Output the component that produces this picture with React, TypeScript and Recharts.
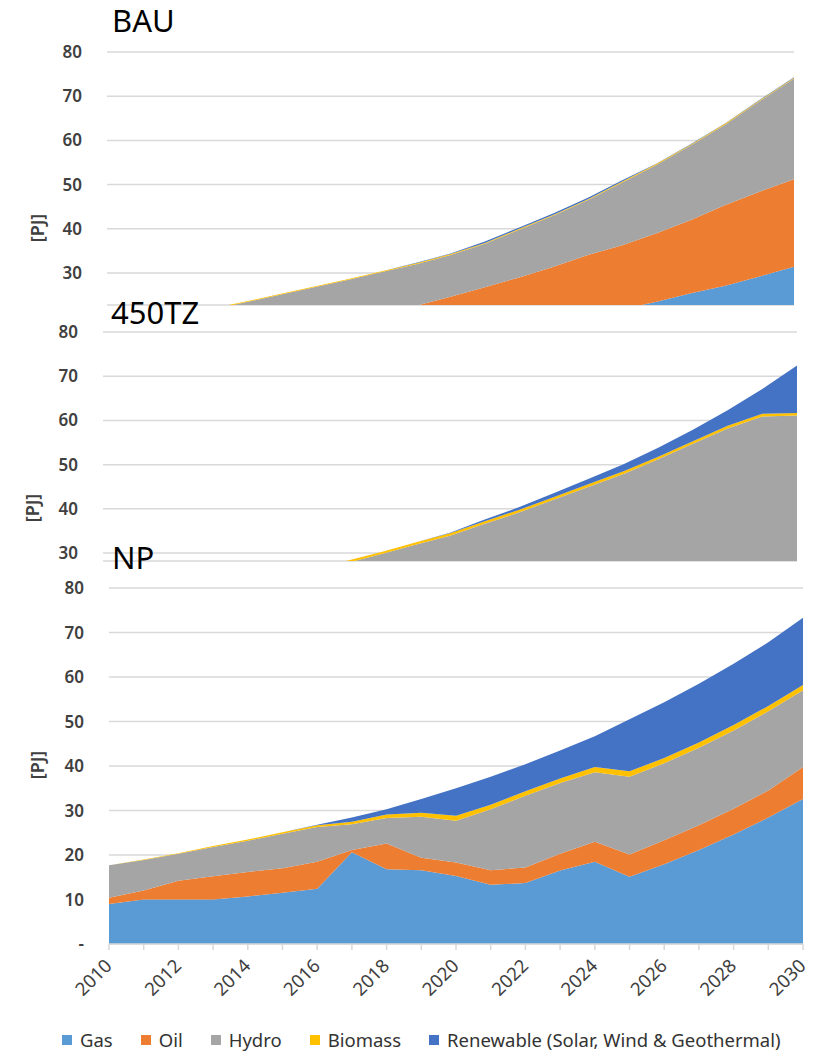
import React from 'react';
import { AreaChart, Area, XAxis, YAxis, CartesianGrid } from 'recharts';

const years = [2010, 2011, 2012, 2013, 2014, 2015, 2016, 2017, 2018, 2019, 2020, 2021, 2022, 2023, 2024, 2025, 2026, 2027, 2028, 2029, 2030];

// BAU scenario [PJ]
const bauGas = [9.0, 10.0, 10.0, 10.0, 10.7, 11.5, 12.4, 13.5, 14.5, 15.5, 16.5, 17.5, 18.5, 19.5, 20.5, 21.8, 23.5, 25.4, 27.1, 29.2, 31.4];
const bauOil = [1.4, 2.0, 4.2, 5.2, 5.5, 5.5, 6.1, 6.0, 6.3, 7.1, 8.1, 9.3, 10.5, 11.9, 13.6, 14.5, 15.5, 16.6, 18.3, 19.2, 19.8];
const bauHydro = [7.3, 6.8, 6.0, 6.5, 7.1, 8.0, 8.2, 8.9, 9.4, 9.4, 9.5, 9.8, 10.8, 11.6, 12.4, 14.2, 15.5, 16.9, 18.2, 20.5, 22.8];
const bauBiomass = [0, 0.1, 0.1, 0.2, 0.2, 0.2, 0.2, 0.2, 0.2, 0.2, 0.2, 0.2, 0.2, 0.2, 0.2, 0.2, 0.2, 0.2, 0.2, 0.2, 0.2];
const bauRenewable = [0, 0, 0, 0, 0, 0, 0, 0, 0, 0.1, 0.1, 0.3, 0.3, 0.3, 0.3, 0.3, 0.1, 0.1, 0.1, 0.1, 0.1];

// 450TZ scenario [PJ]
const tzGas = [9.0, 10.0, 10.0, 10.0, 10.7, 11.5, 12.4, 13.0, 13.0, 13.0, 12.0, 11.0, 10.0, 9.0, 8.0, 7.0, 6.0, 5.0, 4.0, 3.0, 2.0];
const tzOil = [1.4, 2.0, 4.2, 5.2, 5.5, 5.5, 6.1, 5.0, 5.0, 4.0, 4.0, 3.0, 3.0, 2.0, 2.0, 2.0, 1.0, 1.0, 1.0, 1.0, 1.0];
const tzHydro = [7.3, 6.8, 6.0, 6.5, 7.0, 7.8, 7.7, 9.7, 11.7, 14.9, 17.9, 22.6, 26.2, 31.1, 35.0, 38.9, 44.2, 48.7, 53.2, 56.9, 58.1];
const tzBiomass = [0, 0.1, 0.1, 0.2, 0.3, 0.3, 0.4, 0.5, 0.5, 0.5, 0.6, 0.6, 0.6, 0.6, 0.6, 0.6, 0.6, 0.6, 0.6, 0.6, 0.6];
const tzRenewable = [0, 0, 0, 0, 0, 0, 0, 0, 0, 0, 0.1, 0.4, 0.6, 0.9, 1.2, 1.6, 2.0, 2.6, 3.5, 5.6, 10.7];

// NP scenario [PJ]
const npGas = [9.0, 10.0, 10.0, 10.0, 10.7, 11.5, 12.4, 20.6, 16.8, 16.6, 15.3, 13.3, 13.7, 16.5, 18.5, 15.1, 17.9, 21.1, 24.6, 28.4, 32.6];
const npOil = [1.4, 2.0, 4.2, 5.2, 5.5, 5.5, 6.1, 0.5, 5.8, 2.8, 3.0, 3.3, 3.5, 3.8, 4.5, 5.0, 5.4, 5.6, 5.8, 6.1, 7.2];
const npHydro = [7.3, 6.9, 6.1, 6.6, 7.0, 7.8, 7.8, 5.8, 5.7, 9.2, 9.4, 13.7, 16.1, 15.9, 15.6, 17.5, 17.3, 17.4, 17.6, 17.8, 17.2];
const npBiomass = [0, 0.1, 0.1, 0.2, 0.3, 0.3, 0.4, 0.6, 0.8, 0.9, 1.1, 1.0, 1.0, 1.0, 1.2, 1.2, 1.2, 1.2, 1.2, 1.2, 1.2];
const npRenewable = [0, 0, 0, 0, 0, 0, 0.1, 0.9, 1.2, 3.1, 6.2, 6.3, 6.1, 6.3, 6.9, 11.7, 12.5, 13.2, 13.8, 14.3, 15.1];

const yTicksCropped = [30, 40, 50, 60, 70, 80];
const yTicksFull = [0, 10, 20, 30, 40, 50, 60, 70, 80];
const xLabelYears = [2010, 2012, 2014, 2016, 2018, 2020, 2022, 2024, 2026, 2028, 2030];

const series = [
  { key: 'gas', name: 'Gas', color: '#5B9BD5' },
  { key: 'oil', name: 'Oil', color: '#ED7D31' },
  { key: 'hydro', name: 'Hydro', color: '#A5A5A5' },
  { key: 'biomass', name: 'Biomass', color: '#FFC000' },
  { key: 'renewable', name: 'Renewable (Solar, Wind & Geothermal)', color: '#4472C4' },
];

const build = (g: number[], o: number[], h: number[], b: number[], r: number[]) =>
  years.map((year, i) => ({ year, gas: g[i], oil: o[i], hydro: h[i], biomass: b[i], renewable: r[i] }));

const bauData = build(bauGas, bauOil, bauHydro, bauBiomass, bauRenewable);
const tzData = build(tzGas, tzOil, tzHydro, tzBiomass, tzRenewable);
const npData = build(npGas, npOil, npHydro, npBiomass, npRenewable);

const FONT = "'Noto Sans', 'DejaVu Sans', sans-serif";
const tickStyle = { fontSize: 17, fill: '#404040', fontFamily: FONT, fontWeight: 600 };
const GRID = '#D9D9D9';

const renderAreas = () =>
  series.map((s) => (
    <Area
      key={s.key}
      type="linear"
      dataKey={s.key}
      name={s.name}
      stackId="1"
      fill={s.color}
      fillOpacity={1}
      stroke="none"
      isAnimationActive={false}
      dot={false}
      activeDot={false}
    />
  ));

const XTick = (props: any) => {
  const { x, y, payload } = props;
  const yr = Number(payload.value);
  if (!xLabelYears.includes(yr)) return null;
  const ax = x + 4;
  const ay = y + 15;
  return (
    <text
      x={ax}
      y={ay}
      textAnchor="end"
      transform={`rotate(-45, ${ax}, ${ay})`}
      style={{ fontSize: 18.5, fill: '#404040', fontFamily: FONT }}
    >
      {yr}
    </text>
  );
};

export default function App() {
  return (
    <div style={{ position: 'absolute', left: 0, top: 0, width: 821, height: 1054, background: '#fff', overflow: 'hidden' }}>
      {/* BAU */}
      <div style={{ position: 'absolute', left: 0, top: 0 }}>
        <AreaChart width={821} height={310} data={bauData} margin={{ top: 52, right: 27, bottom: 5, left: 0 }}>
          <CartesianGrid vertical={false} stroke={GRID} strokeWidth={1.5} />
          <XAxis dataKey="year" hide />
          <YAxis
            type="number"
            width={107}
            domain={[22.76, 80]}
            allowDataOverflow
            ticks={yTicksCropped}
            axisLine={false}
            tickLine={false}
            tickSize={0}
            tickMargin={25}
            tick={tickStyle}
          />
          {renderAreas()}
        </AreaChart>
      </div>
      {/* 450TZ */}
      <div style={{ position: 'absolute', left: 0, top: 280 }}>
        <AreaChart width={821} height={290} data={tzData} margin={{ top: 52, right: 24, bottom: 9, left: 0 }}>
          <CartesianGrid vertical={false} stroke={GRID} strokeWidth={1.5} />
          <XAxis dataKey="year" hide />
          <YAxis
            type="number"
            width={103}
            domain={[28.2, 80]}
            allowDataOverflow
            ticks={yTicksCropped}
            axisLine={false}
            tickLine={false}
            tickSize={0}
            tickMargin={25}
            tick={tickStyle}
          />
          {renderAreas()}
        </AreaChart>
      </div>
      {/* NP */}
      <div style={{ position: 'absolute', left: 0, top: 536 }}>
        <AreaChart width={821} height={518} data={npData} margin={{ top: 52, right: 18, bottom: 30, left: 0 }}>
          <CartesianGrid vertical={false} stroke={GRID} strokeWidth={1.5} />
          <XAxis
            dataKey="year"
            interval={0}
            height={80}
            axisLine={{ stroke: GRID, strokeWidth: 1.5 }}
            tickLine={{ stroke: GRID, strokeWidth: 1.5 }}
            tickSize={6}
            tick={<XTick />}
          />
          <YAxis
            type="number"
            width={109}
            domain={[0, 80]}
            ticks={yTicksFull}
            axisLine={false}
            tickLine={false}
            tickSize={0}
            tickMargin={25}
            tick={tickStyle}
            tickFormatter={(v: number) => (v === 0 ? '-' : String(v))}
          />
          {renderAreas()}
        </AreaChart>
      </div>
      {/* Titles and axis labels */}
      <svg width={821} height={1054} style={{ position: 'absolute', left: 0, top: 0, pointerEvents: 'none' }}>
        <g style={{ fontFamily: FONT, fontSize: 31, fill: '#000' }}>
          <text x={112} y={32}>BAU</text>
          <text x={111} y={324}>450TZ</text>
          <text x={112} y={569}>NP</text>
        </g>
        <g style={{ fontFamily: FONT, fontSize: 18, fill: '#404040', fontWeight: 600 }}>
          <text x={44} y={228} textAnchor="middle" transform="rotate(-90, 44, 228)">[PJ]</text>
          <text x={39} y={508} textAnchor="middle" transform="rotate(-90, 39, 508)">[PJ]</text>
          <text x={44} y={765} textAnchor="middle" transform="rotate(-90, 44, 765)">[PJ]</text>
        </g>
      </svg>
      {/* Legend */}
      <div
        style={{
          position: 'absolute',
          left: 62,
          top: 1029,
          display: 'flex',
          alignItems: 'center',
          gap: 28,
          fontFamily: FONT,
          fontSize: 18.5,
          lineHeight: '22px',
          color: '#333',
          whiteSpace: 'nowrap',
        }}
      >
        {series.map((s) => (
          <div key={s.key} style={{ display: 'flex', alignItems: 'center' }}>
            <span style={{ display: 'inline-block', width: 10, height: 10, background: s.color, marginRight: 8 }} />
            <span>{s.name}</span>
          </div>
        ))}
      </div>
    </div>
  );
}
